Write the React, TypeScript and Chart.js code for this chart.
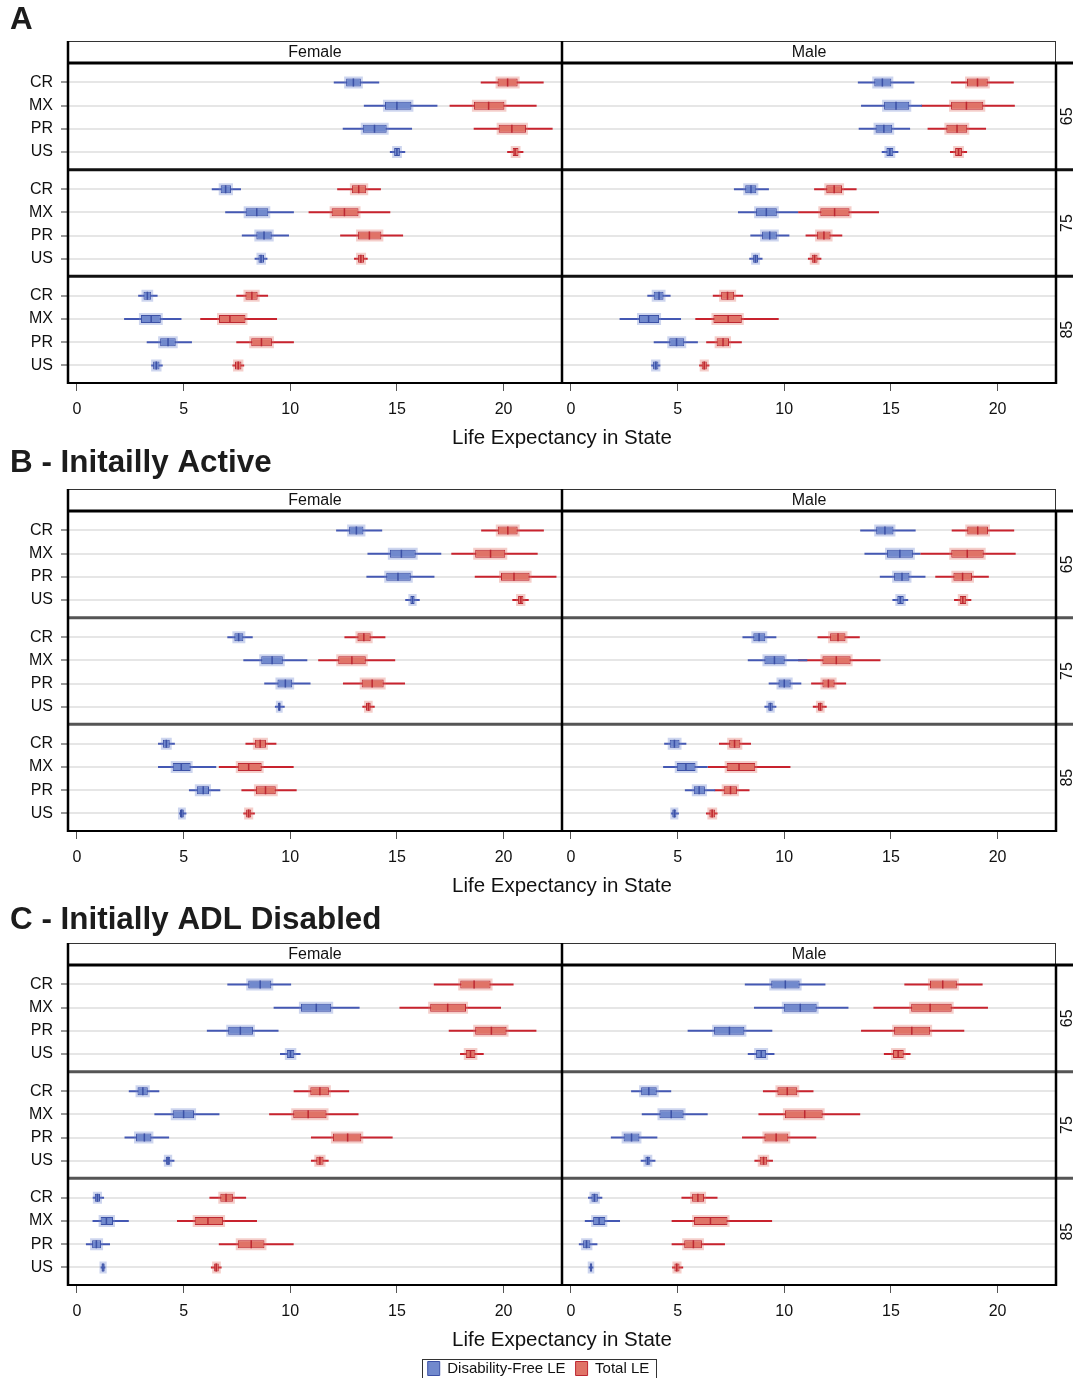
import React, { useEffect, useRef } from 'react';
import { Chart, registerables } from 'chart.js';

Chart.register(...registerables);

// ---------------- data ----------------
const CATEGORIES = ['CR', 'MX', 'PR', 'US'];
const AGE_GROUPS = ['65', '75', '85'];
const SEXES = ['Female', 'Male'];
const X_TICKS = [0, 5, 10, 15, 20];
const SERIES_LABELS = ['Disability-Free LE', 'Total LE'];
const AXIS_TITLE = 'Life Expectancy in State';

// each row: [low whisker, Q1, median, Q3, high whisker]
// rows ordered: age 65 (CR, MX, PR, US), age 75 (CR, MX, PR, US), age 85 (CR, MX, PR, US)
const A_FEMALE_DFLE = [
  [12.04, 12.62, 12.96, 13.31, 14.17], [13.45, 14.44, 15.0, 15.68, 16.9], [12.46, 13.4, 13.95, 14.52, 15.71], [14.67, 14.87, 15.0, 15.14, 15.39],
  [6.32, 6.74, 6.97, 7.22, 7.69], [6.95, 7.91, 8.43, 8.97, 10.17], [7.73, 8.41, 8.77, 9.13, 9.94], [8.33, 8.51, 8.63, 8.77, 8.93],
  [2.87, 3.12, 3.3, 3.48, 3.78], [2.21, 3.0, 3.48, 3.93, 4.9], [3.27, 3.9, 4.27, 4.63, 5.39], [3.48, 3.57, 3.72, 3.87, 4.02],
];
const A_FEMALE_TOTAL = [
  [18.93, 19.72, 20.19, 20.66, 21.88], [17.47, 18.61, 19.3, 20.04, 21.55], [18.6, 19.77, 20.39, 21.05, 22.3], [20.17, 20.43, 20.54, 20.7, 20.93],
  [12.2, 12.89, 13.21, 13.56, 14.25], [10.86, 11.94, 12.54, 13.2, 14.69], [12.34, 13.18, 13.71, 14.27, 15.29], [12.99, 13.18, 13.31, 13.46, 13.63],
  [7.47, 7.9, 8.2, 8.47, 8.96], [5.78, 6.66, 7.17, 7.9, 9.38], [7.47, 8.17, 8.65, 9.14, 10.17], [7.29, 7.41, 7.56, 7.71, 7.84],
];
const A_MALE_DFLE = [
  [13.45, 14.22, 14.6, 15.02, 16.1], [13.6, 14.68, 15.24, 15.86, 16.46], [13.49, 14.28, 14.67, 15.06, 15.9], [14.57, 14.79, 14.95, 15.11, 15.35],
  [7.64, 8.17, 8.44, 8.69, 9.28], [7.83, 8.68, 9.16, 9.65, 10.65], [8.41, 8.96, 9.32, 9.65, 10.24], [8.36, 8.54, 8.65, 8.77, 8.98],
  [3.58, 3.88, 4.13, 4.34, 4.67], [2.28, 3.19, 3.64, 4.13, 5.16], [3.88, 4.61, 4.95, 5.31, 5.95], [3.76, 3.85, 3.98, 4.1, 4.19],
];
const A_MALE_TOTAL = [
  [17.82, 18.57, 19.06, 19.54, 20.76], [16.42, 17.82, 18.54, 19.33, 20.81], [16.72, 17.6, 18.1, 18.58, 19.46], [17.77, 18.01, 18.17, 18.33, 18.57],
  [11.4, 11.97, 12.34, 12.71, 13.39], [10.65, 11.69, 12.36, 13.06, 14.44], [11.0, 11.54, 11.86, 12.17, 12.72], [11.11, 11.29, 11.42, 11.56, 11.74],
  [6.65, 7.04, 7.34, 7.65, 8.07], [5.83, 6.68, 7.37, 8.01, 9.74], [6.34, 6.83, 7.13, 7.41, 8.01], [6.01, 6.13, 6.25, 6.37, 6.49],
];

const B_FEMALE_DFLE = [
  [12.15, 12.76, 13.1, 13.43, 14.31], [13.62, 14.67, 15.21, 15.88, 17.08], [13.57, 14.5, 15.05, 15.65, 16.76], [15.39, 15.63, 15.73, 15.83, 16.07],
  [7.05, 7.38, 7.58, 7.8, 8.24], [7.8, 8.64, 9.15, 9.65, 10.8], [8.78, 9.4, 9.77, 10.09, 10.95], [9.28, 9.42, 9.49, 9.55, 9.74],
  [3.8, 4.03, 4.19, 4.35, 4.59], [3.8, 4.49, 4.89, 5.33, 6.53], [5.25, 5.62, 5.92, 6.19, 6.72], [4.79, 4.83, 4.91, 5.01, 5.13],
];
const B_FEMALE_TOTAL = [
  [18.95, 19.73, 20.2, 20.66, 21.89], [17.55, 18.67, 19.39, 20.08, 21.6], [18.65, 19.88, 20.49, 21.22, 22.48], [20.41, 20.68, 20.81, 20.93, 21.18],
  [12.54, 13.15, 13.45, 13.77, 14.46], [11.31, 12.25, 12.89, 13.54, 14.92], [12.47, 13.35, 13.84, 14.38, 15.38], [13.38, 13.55, 13.67, 13.77, 13.96],
  [7.9, 8.34, 8.59, 8.86, 9.35], [6.65, 7.54, 8.05, 8.66, 10.16], [7.71, 8.39, 8.84, 9.32, 10.3], [7.8, 7.93, 8.05, 8.17, 8.34],
];
const B_MALE_DFLE = [
  [13.56, 14.31, 14.72, 15.12, 16.16], [13.76, 14.82, 15.42, 16.03, 16.38], [14.48, 15.15, 15.52, 15.87, 16.62], [15.07, 15.3, 15.44, 15.6, 15.81],
  [8.04, 8.55, 8.82, 9.11, 9.63], [8.29, 9.07, 9.54, 10.02, 11.08], [9.27, 9.73, 10.0, 10.3, 10.8], [9.07, 9.25, 9.35, 9.46, 9.63],
  [4.37, 4.63, 4.85, 5.09, 5.41], [4.32, 4.96, 5.39, 5.84, 6.41], [5.34, 5.76, 6.01, 6.28, 6.76], [4.69, 4.75, 4.85, 4.94, 5.06],
];
const B_MALE_TOTAL = [
  [17.85, 18.58, 19.07, 19.55, 20.78], [16.38, 17.83, 18.58, 19.35, 20.85], [17.08, 17.93, 18.36, 18.8, 19.59], [17.96, 18.23, 18.37, 18.53, 18.77],
  [11.56, 12.15, 12.52, 12.87, 13.54], [10.65, 11.79, 12.44, 13.11, 14.51], [11.26, 11.79, 12.07, 12.36, 12.9], [11.34, 11.58, 11.69, 11.8, 11.99],
  [6.94, 7.42, 7.67, 7.94, 8.44], [6.41, 7.3, 7.88, 8.64, 10.29], [6.73, 7.16, 7.48, 7.78, 8.37], [6.33, 6.49, 6.62, 6.76, 6.87],
];

const C_FEMALE_DFLE = [
  [7.05, 8.03, 8.59, 9.11, 10.04], [9.22, 10.5, 11.22, 11.92, 13.25], [6.09, 7.09, 7.66, 8.25, 9.45], [9.52, 9.84, 10.01, 10.19, 10.48],
  [2.43, 2.84, 3.09, 3.32, 3.86], [3.63, 4.49, 5.0, 5.49, 6.68], [2.23, 2.77, 3.16, 3.49, 4.32], [4.05, 4.17, 4.27, 4.37, 4.57],
  [0.74, 0.84, 0.96, 1.08, 1.27], [0.73, 1.11, 1.38, 1.69, 2.43], [0.42, 0.71, 0.91, 1.13, 1.55], [1.11, 1.15, 1.22, 1.3, 1.33],
];
const C_FEMALE_TOTAL = [
  [16.73, 17.97, 18.62, 19.39, 20.47], [15.12, 16.56, 17.38, 18.24, 19.88], [17.43, 18.67, 19.43, 20.14, 21.54], [17.96, 18.23, 18.45, 18.68, 19.07],
  [10.16, 10.94, 11.39, 11.81, 12.76], [9.01, 10.14, 10.84, 11.7, 13.2], [10.97, 12.0, 12.69, 13.33, 14.8], [10.97, 11.22, 11.39, 11.56, 11.8],
  [6.21, 6.72, 6.99, 7.31, 7.93], [4.69, 5.52, 6.14, 6.85, 8.44], [6.65, 7.54, 8.17, 8.79, 10.16], [6.28, 6.43, 6.53, 6.65, 6.78],
];
const C_MALE_DFLE = [
  [8.15, 9.39, 10.05, 10.72, 11.93], [8.58, 9.98, 10.75, 11.52, 13.01], [5.47, 6.71, 7.43, 8.13, 9.44], [8.29, 8.68, 8.92, 9.15, 9.54],
  [2.82, 3.29, 3.65, 4.02, 4.7], [3.32, 4.15, 4.7, 5.28, 6.41], [1.87, 2.47, 2.84, 3.21, 4.05], [3.27, 3.49, 3.6, 3.72, 3.96],
  [0.8, 0.96, 1.1, 1.26, 1.47], [0.65, 1.04, 1.32, 1.61, 2.3], [0.37, 0.57, 0.73, 0.91, 1.24], [0.83, 0.88, 0.94, 1.0, 1.05],
];
const C_MALE_TOTAL = [
  [15.63, 16.83, 17.43, 18.09, 19.3], [14.18, 15.95, 16.84, 17.85, 19.55], [13.6, 15.15, 15.98, 16.84, 18.44], [14.67, 15.1, 15.34, 15.6, 15.92],
  [9.0, 9.68, 10.14, 10.61, 11.37], [8.79, 10.03, 10.96, 11.8, 13.56], [8.02, 9.07, 9.62, 10.19, 11.5], [8.6, 8.85, 9.03, 9.2, 9.47],
  [5.18, 5.68, 5.95, 6.24, 6.87], [4.72, 5.77, 6.54, 7.34, 9.43], [4.72, 5.31, 5.74, 6.14, 7.22], [4.74, 4.85, 4.96, 5.09, 5.26],
];

// ---------------- styles / layout ----------------
const FONT = '"Liberation Sans", Arial, Helvetica, sans-serif';
const SERIES_STYLES = [
  { whisker: '#4458b3', halo: 'rgba(112,136,205,0.35)', fill: '#7189cd', line: '#3c51a6' },
  { whisker: '#c8232e', halo: 'rgba(224,115,103,0.35)', fill: '#e07367', line: '#bd2832' },
];

type Fig = {
  key: string;
  title: string;
  titleY: number;
  top: number;
  height: number;
  padBottom: number;
  xAxisH: number;
  sepColor: string;
  legend: boolean;
  series: number[][][][]; // [sex][series] -> rows
};

const FIGS: Fig[] = [
  { key: 'A', title: 'A', titleY: 29, top: 0, height: 448, padBottom: 0, xAxisH: 65, sepColor: '#111', legend: false,
    series: [[A_FEMALE_DFLE, A_FEMALE_TOTAL], [A_MALE_DFLE, A_MALE_TOTAL]] },
  { key: 'B', title: 'B - Initailly Active', titleY: 24, top: 448, height: 454, padBottom: 0, xAxisH: 71, sepColor: '#555', legend: false,
    series: [[B_FEMALE_DFLE, B_FEMALE_TOTAL], [B_MALE_DFLE, B_MALE_TOTAL]] },
  { key: 'C', title: 'C - Initially ADL Disabled', titleY: 27, top: 902, height: 476, padBottom: -8, xAxisH: 66, sepColor: '#555', legend: true,
    series: [[C_FEMALE_DFLE, C_FEMALE_TOTAL], [C_MALE_DFLE, C_MALE_TOTAL]] },
];

const PAD_LEFT = 21;
const PLOT_LEFT = 68;

const panelFramePlugin = {
  id: 'panelFrame',
  afterDraw(chart: any, _args: any, opts: any) {
    const ctx = chart.ctx as CanvasRenderingContext2D;
    const { left, right, top, bottom } = chart.chartArea;
    const W = chart.width;
    const xF = chart.scales.xF;
    const ys = AGE_GROUPS.map((a) => chart.scales['y' + a]);
    const hTop = top - 22;
    const line = (x0: number, y0: number, x1: number, y1: number) => {
      ctx.beginPath();
      ctx.moveTo(x0, y0);
      ctx.lineTo(x1, y1);
      ctx.stroke();
    };
    ctx.save();
    // figure title
    ctx.fillStyle = '#1c1c1c';
    ctx.font = `bold 31.4px ${FONT}`;
    ctx.textAlign = 'left';
    ctx.textBaseline = 'alphabetic';
    ctx.fillText(opts.title, 10, opts.titleY);

    // header strips
    ctx.lineWidth = 1;
    ctx.strokeStyle = '#333';
    ctx.font = `16px ${FONT}`;
    ctx.textAlign = 'center';
    ctx.textBaseline = 'middle';
    ['xF', 'xM'].forEach((id, i) => {
      const s = chart.scales[id];
      ctx.strokeRect(s.left + 0.5, hTop + 0.5, s.right - s.left - 1, 21);
      ctx.fillStyle = '#111';
      ctx.fillText(SEXES[i], (s.left + s.right) / 2, hTop + 11.5);
    });

    // group separators
    ctx.strokeStyle = opts.sepColor;
    ctx.lineWidth = 3;
    ys.slice(0, 2).forEach((s: any) => line(left, s.bottom, W, s.bottom));

    // frame
    ctx.strokeStyle = '#000';
    ctx.lineWidth = 3;
    line(left - 1, top, W, top);
    ctx.lineWidth = 2.5;
    line(left, hTop, left, bottom + 1);
    line(xF.right, hTop, xF.right, bottom + 1);
    line(right, top, right, bottom + 1);
    ctx.lineWidth = 2;
    line(left, bottom, right, bottom);

    // age labels (row headers on the right)
    ctx.fillStyle = '#111';
    ctx.font = `16px ${FONT}`;
    ctx.textAlign = 'center';
    ctx.textBaseline = 'middle';
    ys.forEach((s: any, i: number) => {
      ctx.save();
      ctx.translate(right + 12, (s.top + s.bottom) / 2);
      ctx.rotate(-Math.PI / 2);
      ctx.fillText(AGE_GROUPS[i], 0, 0);
      ctx.restore();
    });

    // axis title
    ctx.font = `20.5px ${FONT}`;
    ctx.fillStyle = '#111';
    ctx.fillText(AXIS_TITLE, (left + right) / 2, opts.axisTitleY);

    // legend frame
    if (opts.legendFrame && chart.legend && chart.legend.legendHitBoxes && chart.legend.legendHitBoxes.length) {
      const hb = chart.legend.legendHitBoxes;
      const last = hb[hb.length - 1];
      const x0 = hb[0].left - 6;
      const x1 = last.left + last.width + 6;
      const yc = hb[0].top + hb[0].height / 2;
      ctx.strokeStyle = '#333';
      ctx.lineWidth = 1;
      ctx.strokeRect(Math.round(x0) + 0.5, Math.round(yc - 10) + 0.5, Math.round(x1 - x0), 30);
    }
    ctx.restore();
  },
};

function buildDatasets(fig: Fig) {
  const ds: any[] = [];
  SEXES.forEach((_sex, si) => {
    const xAxisID = si === 0 ? 'xF' : 'xM';
    AGE_GROUPS.forEach((age, ai) => {
      const yAxisID = 'y' + age;
      SERIES_LABELS.forEach((label, ki) => {
        const rows = fig.series[si][ki].slice(ai * 4, ai * 4 + 4);
        const st = SERIES_STYLES[ki];
        const inLegend = si === 0 && ai === 0;
        ds.push({
          type: 'bar', label: label + ' whisker', indexAxis: 'y', grouped: false, xAxisID, yAxisID, order: 3,
          barThickness: 2, inflateAmount: 0, borderWidth: 0, backgroundColor: st.whisker,
          data: rows.map((r, i) => ({ x: [r[0], r[4]], y: i })),
        });
        ds.push({
          type: 'bar', label: label + ' halo', indexAxis: 'y', grouped: false, xAxisID, yAxisID, order: 2,
          barThickness: 8, inflateAmount: 2, borderWidth: 0, backgroundColor: st.halo,
          data: rows.map((r, i) => ({ x: [r[1], r[3]], y: i })),
        });
        ds.push({
          type: 'bar', label, inLegend, indexAxis: 'y', grouped: false, xAxisID, yAxisID, order: 1,
          barThickness: 8, inflateAmount: 0, borderWidth: 1, borderSkipped: false,
          backgroundColor: st.fill, borderColor: st.line,
          data: rows.map((r, i) => ({ x: [r[1], r[3]], y: i })),
        });
        ds.push({
          type: 'scatter', label: label + ' median', xAxisID, yAxisID, order: 0,
          pointStyle: 'line', pointRotation: 90, pointRadius: 4, pointHoverRadius: 4,
          pointBorderWidth: 1.5, pointBorderColor: st.line, borderColor: st.line, showLine: false,
          data: rows.map((r, i) => ({ x: r[2], y: i })),
        });
      });
    });
  });
  return ds;
}

function buildConfig(fig: Fig): any {
  const yScale = (weight: number) => ({
    type: 'linear', axis: 'y', position: 'left', stack: 'rows', stackWeight: 1, weight,
    min: -0.84, max: 3.76, reverse: true, offset: false,
    afterBuildTicks: (s: any) => { s.ticks = CATEGORIES.map((_, i) => ({ value: i })); },
    afterFit: (s: any) => { s.width = PLOT_LEFT - PAD_LEFT; },
    ticks: {
      autoSkip: false, padding: 8, color: '#111', font: { size: 16, family: FONT },
      callback: (v: any) => CATEGORIES[v as number] ?? '',
    },
    grid: { offset: false, color: '#e6e6e6', lineWidth: 2, drawTicks: true, tickLength: 7, tickColor: '#777', tickWidth: 1.5 },
    border: { display: false },
  });
  const xScale = (weight: number) => ({
    type: 'linear', axis: 'x', position: 'bottom', stack: 'cols', stackWeight: 1, weight,
    min: -0.42, max: 22.74, offset: false,
    afterBuildTicks: (s: any) => { s.ticks = X_TICKS.map((v) => ({ value: v })); },
    afterFit: (s: any) => { s.height = fig.xAxisH; },
    ticks: { autoSkip: false, maxRotation: 0, padding: 9, color: '#111', font: { size: 16, family: FONT } },
    grid: { offset: false, drawOnChartArea: false, drawTicks: true, tickLength: 8, tickColor: '#555', tickWidth: 1 },
    border: { display: false },
  });
  return {
    type: 'bar',
    data: { datasets: buildDatasets(fig) },
    plugins: [panelFramePlugin],
    options: {
      animation: false,
      responsive: false,
      devicePixelRatio: 1,
      events: [],
      layout: { padding: { top: 63, left: PAD_LEFT, right: 17, bottom: fig.padBottom } },
      scales: {
        xF: xScale(1),
        xM: xScale(2),
        y65: yScale(3),
        y75: yScale(2),
        y85: yScale(1),
      },
      plugins: {
        tooltip: { enabled: false },
        title: { display: false },
        legend: {
          display: fig.legend,
          position: 'bottom',
          align: 'center',
          labels: {
            boxWidth: 12, boxHeight: 14, padding: 10, color: '#111',
            font: { size: 15, family: FONT },
            filter: (item: any, data: any) => !!data.datasets[item.datasetIndex].inLegend,
          },
        },
        panelFrame: { title: fig.title, titleY: fig.titleY, sepColor: fig.sepColor, axisTitleY: 438, legendFrame: fig.legend },
      },
    },
  };
}

function FigureCanvas({ fig }: { fig: Fig }) {
  const ref = useRef<HTMLCanvasElement | null>(null);
  useEffect(() => {
    if (!ref.current) return;
    const chart = new Chart(ref.current, buildConfig(fig));
    return () => chart.destroy();
  }, [fig]);
  return (
    <div style={{ position: 'absolute', left: 0, top: fig.top, width: 1073, height: fig.height }}>
      <canvas ref={ref} width={1073} height={fig.height} style={{ display: 'block', width: 1073, height: fig.height }} />
    </div>
  );
}

export default function App() {
  Chart.defaults.font.family = FONT;
  return (
    <div style={{ position: 'absolute', left: 0, top: 0, width: 1073, height: 1378, overflow: 'hidden', background: '#fff' }}>
      {FIGS.map((f) => (
        <FigureCanvas key={f.key} fig={f} />
      ))}
    </div>
  );
}
